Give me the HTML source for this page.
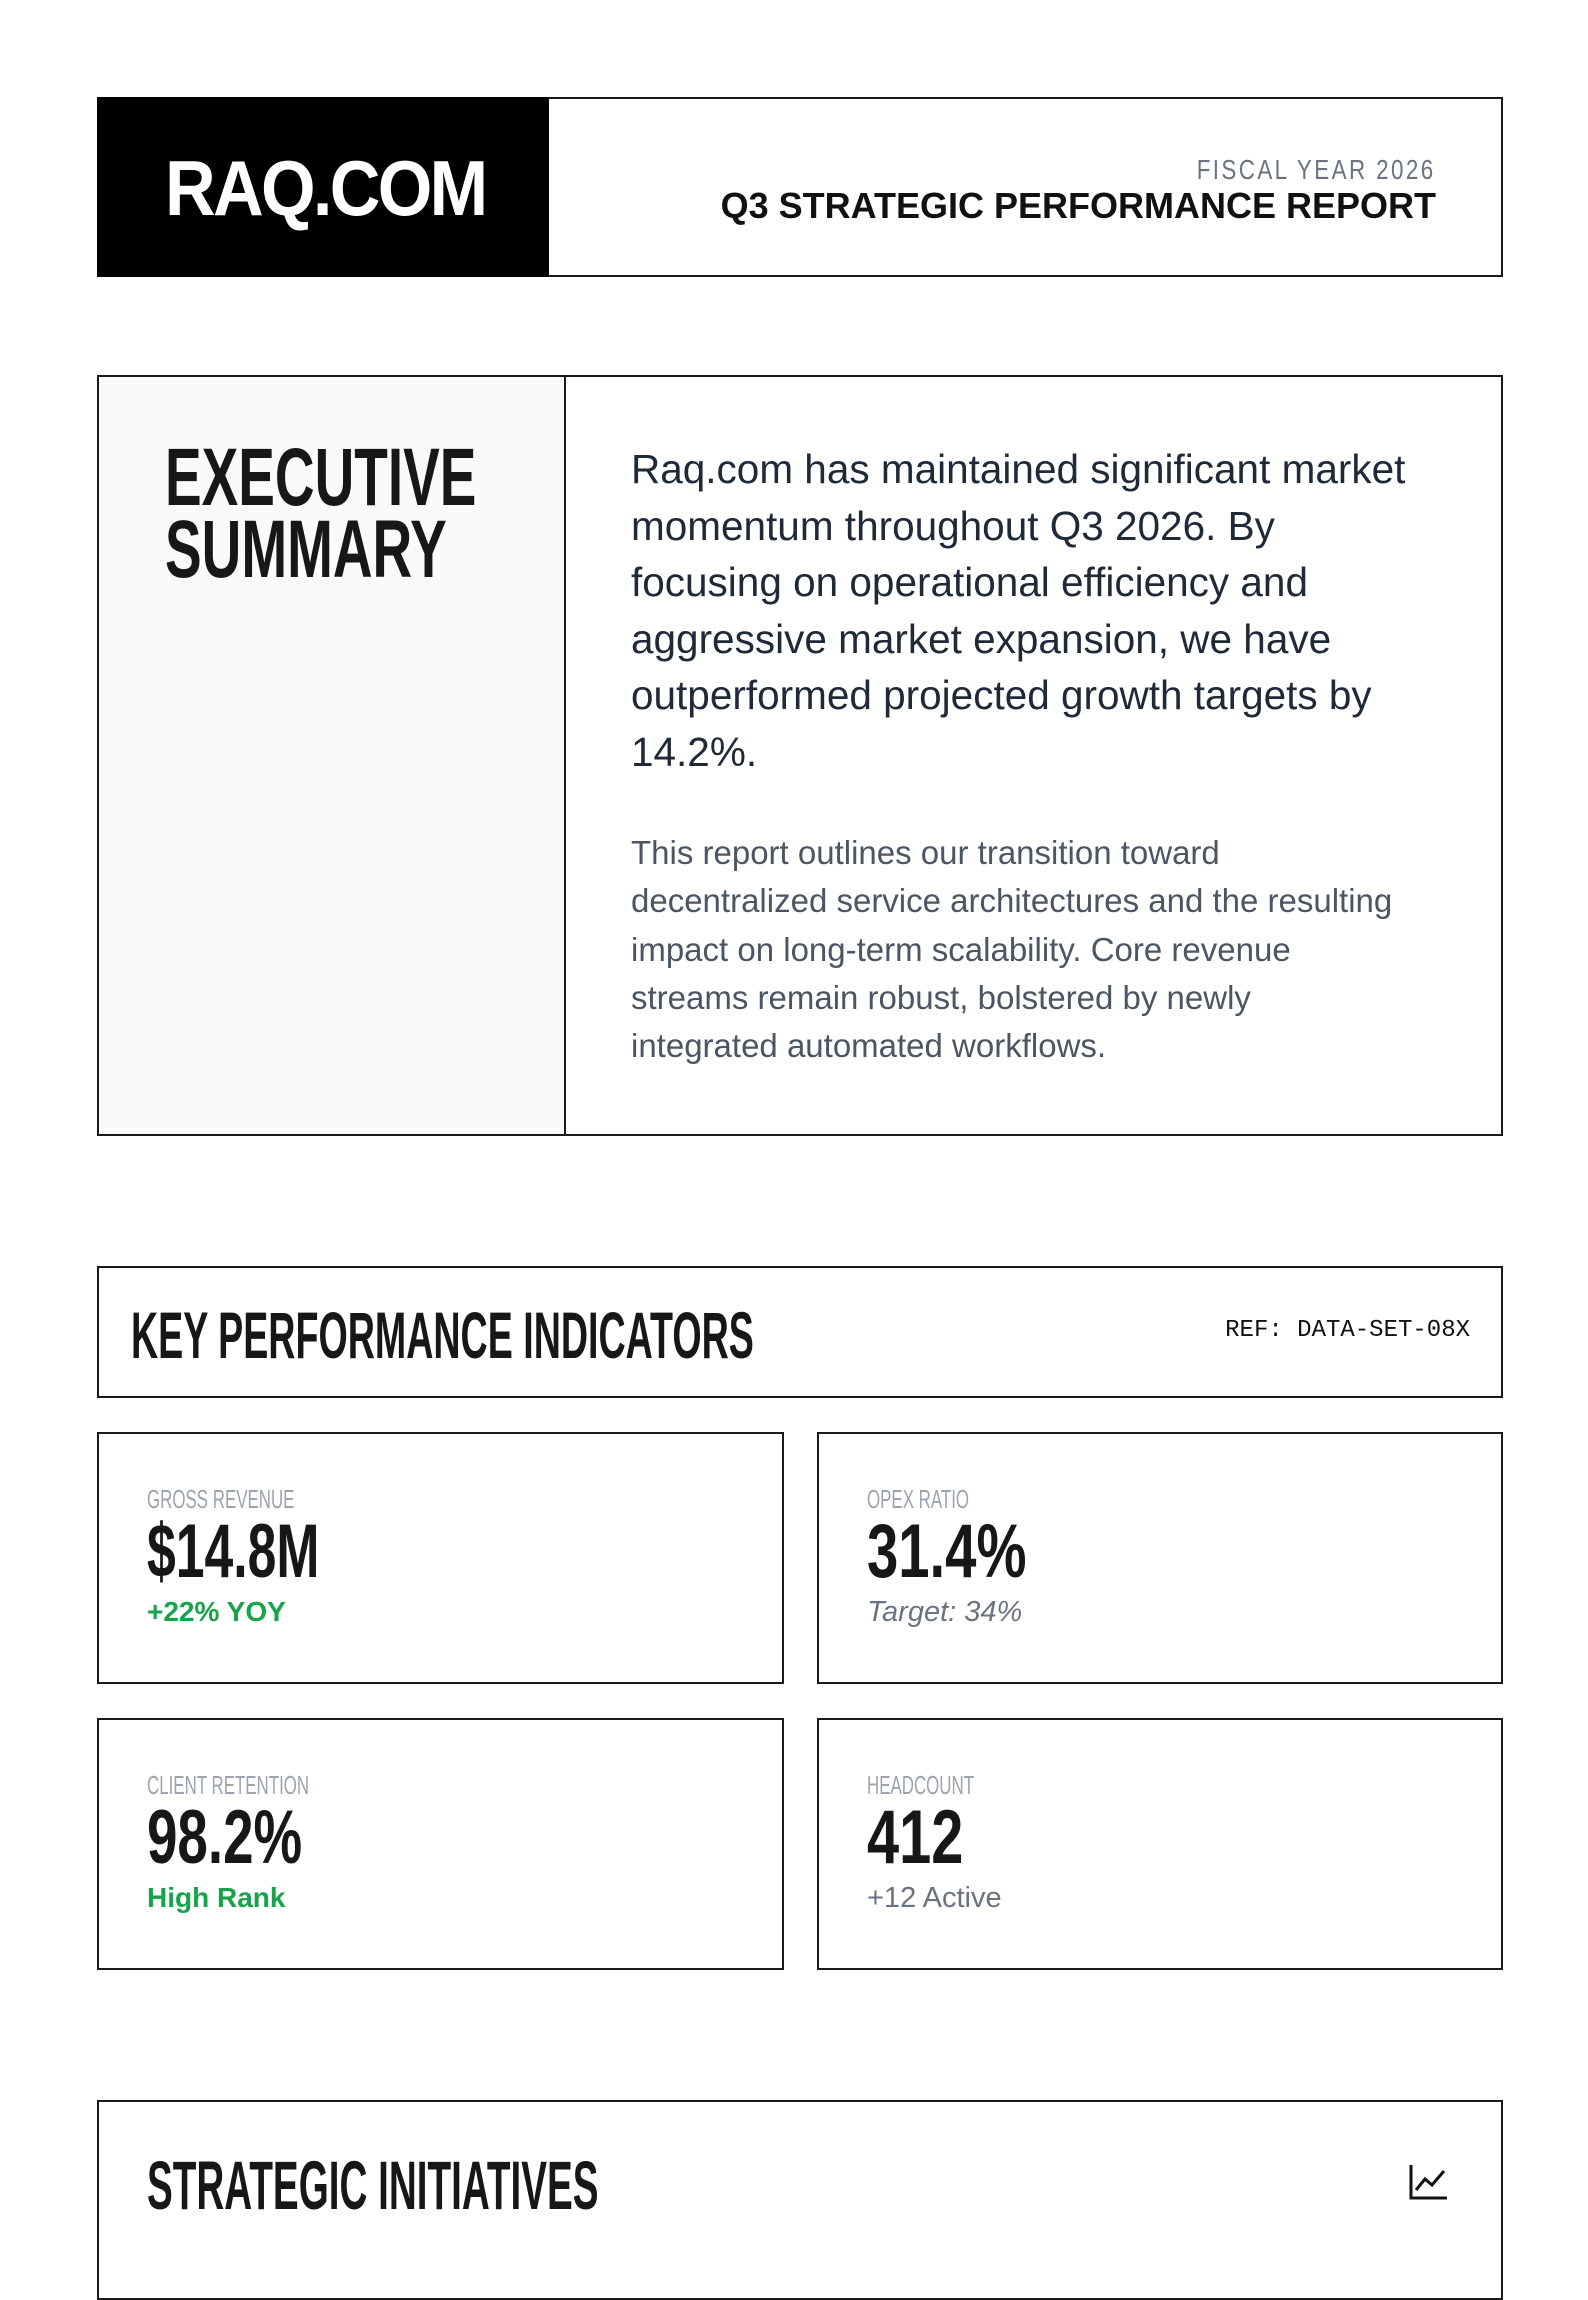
<!DOCTYPE html>
<html><head><meta charset="utf-8"><style>
*{margin:0;padding:0;box-sizing:border-box}
body{width:1588px;height:2246px;background:#fff;position:relative;overflow:hidden;font-family:"Liberation Sans",sans-serif;color:#111}
.a{position:absolute}
.box{position:absolute;border:2px solid #1a1a1a}
.t{position:absolute;white-space:nowrap;transform-origin:0 0}
.c{font-weight:700;letter-spacing:0}
.lbl{position:absolute;white-space:nowrap;transform-origin:0 0;font-size:26px;color:#9ca3af;transform:scaleX(0.65)}
.val{position:absolute;white-space:nowrap;transform-origin:0 0;font-size:76px;font-weight:700;color:#171717}
.sub{position:absolute;white-space:nowrap;font-size:29px}
</style></head><body>

<!-- header -->
<div class="box" style="left:97px;top:97px;width:1406px;height:180px"></div>
<div class="a" style="left:97px;top:97px;width:452px;height:180px;background:#000"></div>
<div class="t" style="left:165px;top:148px;font-size:78px;font-weight:700;color:#fff;letter-spacing:-3px;transform:scaleX(0.9);line-height:80px">RAQ.COM</div>
<div class="t" style="right:152px;top:154px;font-size:28px;color:#6b7280;letter-spacing:3px;transform:scaleX(0.8);transform-origin:100% 0;line-height:32px">FISCAL YEAR 2026</div>
<div class="t" style="right:152px;top:186px;font-size:36px;font-weight:700;color:#111;line-height:40px">Q3 STRATEGIC PERFORMANCE REPORT</div>

<!-- executive summary -->
<div class="box" style="left:97px;top:375px;width:1406px;height:761px"></div>
<div class="a" style="left:99px;top:377px;width:467px;height:757px;background:#f8fafc;border-right:2px solid #1a1a1a"></div>
<div class="t c" style="left:165px;top:442px;font-size:82px;line-height:72px;transform:scaleX(0.67);color:#171717">EXECUTIVE<br>SUMMARY</div>
<div class="t" style="left:631px;top:441px;font-size:40.5px;line-height:56.5px;color:#1f2937">Raq.com has maintained significant market<br>momentum throughout Q3 2026. By<br>focusing on operational efficiency and<br>aggressive market expansion, we have<br>outperformed projected growth targets by<br>14.2%.</div>
<div class="t" style="left:631px;top:829px;font-size:33px;line-height:48.3px;color:#4b5563">This report outlines our transition toward<br>decentralized service architectures and the resulting<br>impact on long-term scalability. Core revenue<br>streams remain robust, bolstered by newly<br>integrated automated workflows.</div>

<!-- KPI header -->
<div class="box" style="left:97px;top:1266px;width:1406px;height:132px"></div>
<div class="t c" style="left:131px;top:1300px;font-size:66px;line-height:70px;transform:scaleX(0.57);color:#171717">KEY PERFORMANCE INDICATORS</div>
<div class="t" style="right:118px;top:1317px;font-family:'Liberation Mono',monospace;font-size:24px;color:#111;line-height:28px">REF: DATA-SET-08X</div>

<!-- cards -->
<div class="box" style="left:97px;top:1432px;width:687px;height:252px"></div>
<div class="box" style="left:817px;top:1432px;width:686px;height:252px"></div>
<div class="box" style="left:97px;top:1718px;width:687px;height:252px"></div>
<div class="box" style="left:817px;top:1718px;width:686px;height:252px"></div>

<div class="lbl" style="left:147px;top:1484px">GROSS REVENUE</div>
<div class="val" style="left:147px;top:1508px;transform:scaleX(0.68)">$14.8M</div>
<div class="sub" style="left:147px;top:1596px;color:#16a34a;font-weight:700;font-size:28px">+22% YOY</div>

<div class="lbl" style="left:867px;top:1484px">OPEX RATIO</div>
<div class="val" style="left:867px;top:1508px;transform:scaleX(0.74)">31.4%</div>
<div class="sub" style="left:867px;top:1596px;color:#6b7280;font-style:italic">Target: 34%</div>

<div class="lbl" style="left:147px;top:1770px">CLIENT RETENTION</div>
<div class="val" style="left:147px;top:1794px;transform:scaleX(0.72)">98.2%</div>
<div class="sub" style="left:147px;top:1882px;color:#16a34a;font-weight:700;font-size:28px">High Rank</div>

<div class="lbl" style="left:867px;top:1770px">HEADCOUNT</div>
<div class="val" style="left:867px;top:1794px;transform:scaleX(0.76)">412</div>
<div class="sub" style="left:867px;top:1882px;color:#6b7280">+12 Active</div>

<!-- strategic -->
<div class="box" style="left:97px;top:2100px;width:1406px;height:200px"></div>
<div class="t c" style="left:147px;top:2150px;font-size:69px;line-height:72px;transform:scaleX(0.56);color:#171717">STRATEGIC INITIATIVES</div>
<svg class="a" style="left:1408px;top:2162px" width="42" height="40" viewBox="0 0 42 40">
<path d="M3 3 V36 H39" fill="none" stroke="#111" stroke-width="3"/>
<path d="M8 28 L17 17 L24 23 L36 9" fill="none" stroke="#111" stroke-width="3"/>
</svg>
</body></html>
